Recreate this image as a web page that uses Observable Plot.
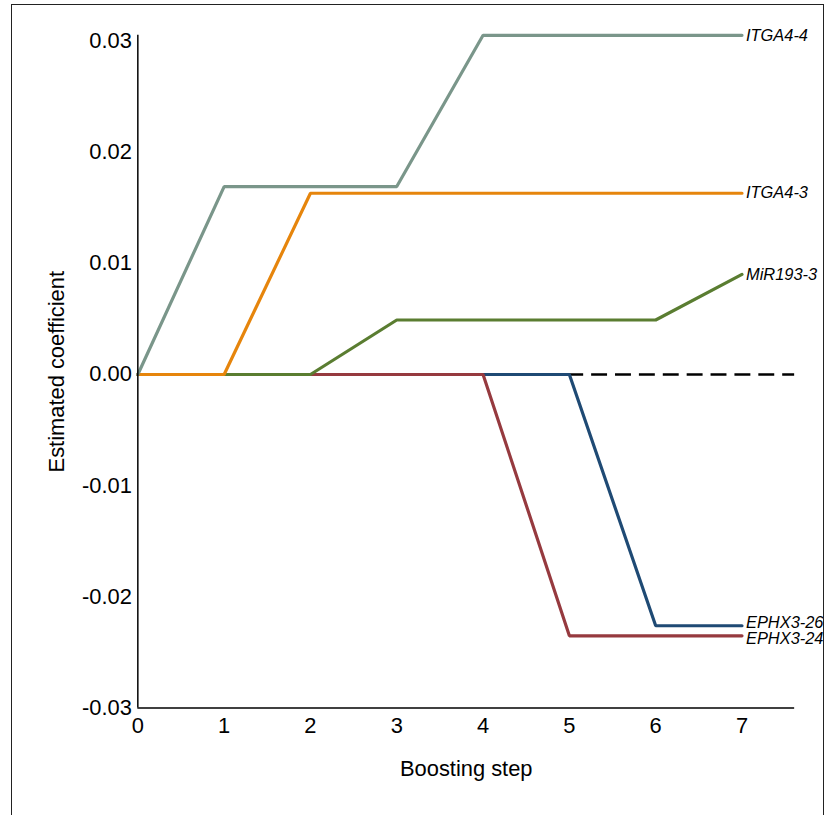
<!DOCTYPE html>
<html>
<head>
<meta charset="utf-8">
<script src="https://cdn.jsdelivr.net/npm/d3@7"></script>
<script src="https://cdn.jsdelivr.net/npm/@observablehq/plot@0.6"></script>
<style>
  html, body { margin: 0; padding: 0; background: #fff; }
  #wrap { position: relative; width: 828px; height: 815px; overflow: hidden; }
  #clip { position: absolute; left: 0; top: 0; width: 824px; height: 815px; overflow: hidden; }
  #frame { position: absolute; left: 11px; top: 4px; width: 813px; height: 840px; border: 1.5px solid #222; box-sizing: border-box; pointer-events: none; }
</style>
</head>
<body>
<div id="wrap"><div id="clip"></div><div id="frame"></div></div>
<script>
const steps = [0, 1, 2, 3, 4, 5, 6, 7];
const seriesNames = ["EPHX3-26", "EPHX3-24", "MiR193-3", "ITGA4-3", "ITGA4-4"];
const ephx26 = [0, 0, 0, 0, 0, 0, -0.0226, -0.0226];
const ephx24 = [0, 0, 0, 0, 0, -0.0235, -0.0235, -0.0235];
const mir193 = [0, 0, 0, 0.0049, 0.0049, 0.0049, 0.0049, 0.0090];
const itga43 = [0, 0, 0.0163, 0.0163, 0.0163, 0.0163, 0.0163, 0.0163];
const itga44 = [0, 0.0169, 0.0169, 0.0169, 0.0305, 0.0305, 0.0305, 0.0305];
const seriesColors = ["#1f4a74", "#963a3f", "#5a7d31", "#e6850c", "#7a968a"];
const labelNudge = [-3, 3, 0, 0, 0];
const yTicks = [-0.03, -0.02, -0.01, 0, 0.01, 0.02, 0.03];
const xTicks = [0, 1, 2, 3, 4, 5, 6, 7];

const valuesBySeries = [ephx26, ephx24, mir193, itga43, itga44];
const rows = [];
seriesNames.forEach((name, i) => {
  steps.forEach((s, j) => rows.push({series: name, step: s, value: valuesBySeries[i][j]}));
});
const lastRows = seriesNames.map((name, i) => ({series: name, step: steps[steps.length - 1], value: valuesBySeries[i][steps.length - 1], nudge: labelNudge[i]}));

const font = "'Liberation Sans', Arial, sans-serif";

const chart = Plot.plot({
  width: 828,
  height: 815,
  marginLeft: 138,
  marginTop: 35,
  marginRight: 30,
  marginBottom: 104,
  style: {fontFamily: font, fontSize: "22px", color: "#000", background: "transparent"},
  x: {domain: [0, 7.61]},
  y: {domain: [-0.03, 0.0305]},
  color: {domain: seriesNames, range: seriesColors},
  marks: [
    Plot.ruleY([0], {stroke: "#000", strokeWidth: 2.6, strokeDasharray: "16,8"}),
    Plot.line(rows, {x: "step", y: "value", z: "series", stroke: "series", strokeWidth: 3.2, strokeLinejoin: "miter"}),
    ...lastRows.map(r => Plot.text([r], {x: "step", y: "value", text: "series", dx: 4, dy: r.nudge, textAnchor: "start", fontStyle: "italic", fontSize: 16.5, fill: "#000"})),
    Plot.axisY({ticks: yTicks, tickSize: 0, tickPadding: 6, fontSize: 22, tickFormat: d => d3.format(".2f")(d).replace("−", "-"),
      label: "Estimated coefficient", labelAnchor: "center", labelArrow: "none", labelOffset: 90}),
    Plot.axisX({ticks: xTicks, tickSize: 0, tickPadding: 9, fontSize: 22, tickFormat: d => String(d),
      label: "Boosting step", labelAnchor: "center", labelArrow: "none", labelOffset: 68}),
    Plot.ruleX([0], {stroke: "#000", strokeWidth: 1.5}),
    Plot.ruleY([-0.03], {stroke: "#000", strokeWidth: 1.5})
  ]
});
document.getElementById("clip").appendChild(chart);
</script>
</body>
</html>
